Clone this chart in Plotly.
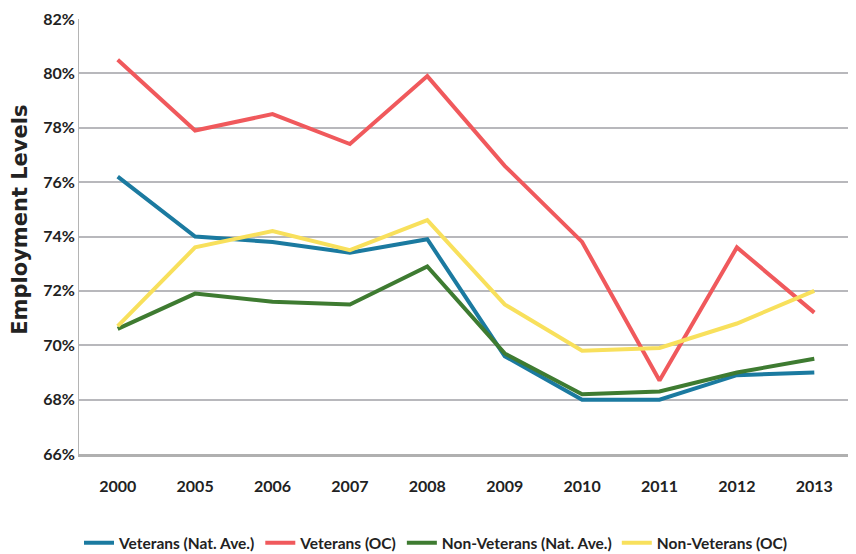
import plotly.graph_objects as go

years = ["2000", "2005", "2006", "2007", "2008", "2009", "2010", "2011", "2012", "2013"]
vet_nat = [76.2, 74.0, 73.8, 73.4, 73.9, 69.6, 68.0, 68.0, 68.9, 69.0]
vet_oc = [80.5, 77.9, 78.5, 77.4, 79.9, 76.6, 73.8, 68.7, 73.6, 71.2]
nonvet_nat = [70.6, 71.9, 71.6, 71.5, 72.9, 69.7, 68.2, 68.3, 69.0, 69.5]
nonvet_oc = [70.7, 73.6, 74.2, 73.5, 74.6, 71.5, 69.8, 69.9, 70.8, 72.0]

y_ticks = [66, 68, 70, 72, 74, 76, 78, 80, 82]
y_labels = ["66%", "68%", "70%", "72%", "74%", "76%", "78%", "80%", "82%"]
y_title = "Employment Levels"

series = [
    ("Veterans (Nat. Ave.)", vet_nat, "#1b7aa0"),
    ("Veterans (OC)", vet_oc, "#f0595c"),
    ("Non-Veterans (Nat. Ave.)", nonvet_nat, "#3e7b31"),
    ("Non-Veterans (OC)", nonvet_oc, "#f8e05c"),
]

FONT = "Lato, sans-serif"

fig = go.Figure()
for name, vals, col in series:
    fig.add_trace(go.Scatter(x=years, y=vals, name=name, mode="lines",
                             line=dict(color=col, width=4)))

fig.add_annotation(text=y_title, textangle=-90, xref="paper", yref="paper",
                   x=-0.0765, y=0.538, xanchor="center", yanchor="middle", showarrow=False,
                   font=dict(family="DejaVu Sans", size=21, weight="bold", color="#222222"))

fig.update_layout(
    width=856, height=554,
    margin=dict(l=71, r=11, t=11, b=108),
    paper_bgcolor="white", plot_bgcolor="white",
    font=dict(family=FONT, size=16, color="#222222"),
    showlegend=True,
    legend=dict(orientation="h", x=0.0, xanchor="left", yref="container", y=0.034,
                yanchor="middle",
                font=dict(family=FONT, size=15.5, color="#222222", weight="bold"),
                itemwidth=30),
    xaxis=dict(type="category", range=[-0.5, 9.5], showgrid=False, showline=True,
               linecolor="#b0b0b0", linewidth=2.5, ticks="", automargin=False,
               tickfont=dict(family=FONT, size=16, weight="bold", color="#222222"),
               ticklabelstandoff=16),
    yaxis=dict(range=[66, 82], tickvals=y_ticks, ticktext=y_labels, showgrid=True,
               gridcolor="#b8b8bc", gridwidth=1.5, showline=True, linecolor="#b4b4b4",
               linewidth=1, zeroline=False, ticks="", automargin=False,
               tickfont=dict(family=FONT, size=16, weight="bold", color="#222222")),
)

fig.write_html("out.html")
